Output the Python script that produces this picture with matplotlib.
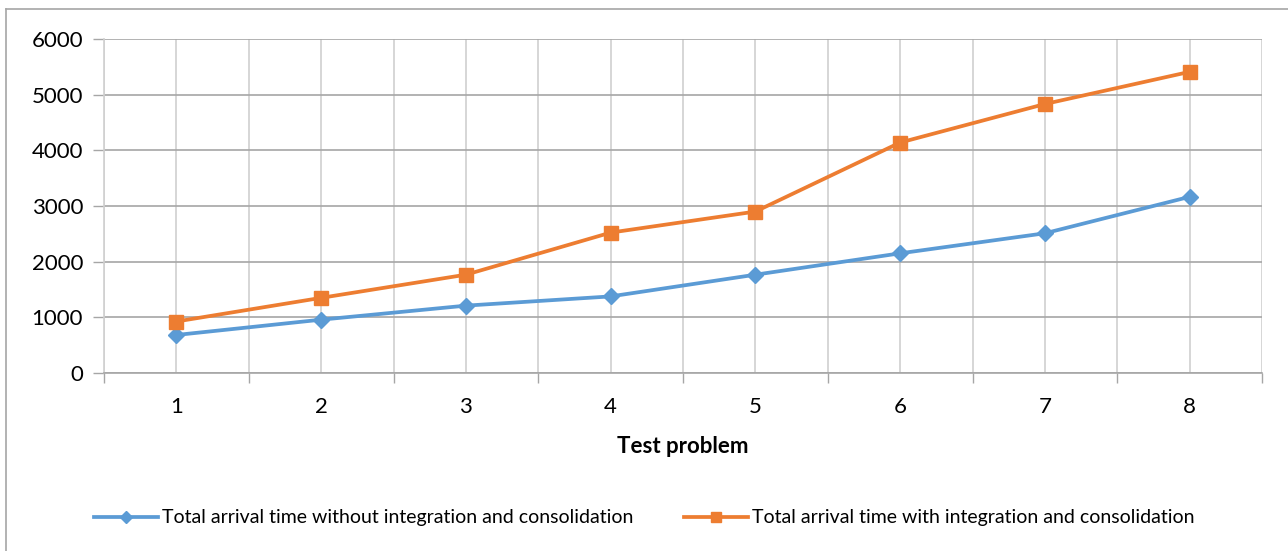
import numpy as np
import matplotlib
matplotlib.use('Agg')
import matplotlib.pyplot as plt
from matplotlib.lines import Line2D

plt.rcParams['font.family'] = ['Lato', 'DejaVu Sans']

# Data
problems = ['1', '2', '3', '4', '5', '6', '7', '8']
without_ic = [683, 958, 1210, 1376, 1766, 2150, 2510, 3165]
with_ic = [925, 1350, 1766, 2522, 2900, 4140, 4832, 5410]
label_without = 'Total arrival time without integration and consolidation'
label_with = 'Total arrival time with integration and consolidation'

blue = '#5b9bd5'
orange = '#ed7d31'

fig = plt.figure(figsize=(12.88, 5.51), dpi=100)
ax = fig.add_axes([104 / 1288, 1 - 373 / 551, (1262 - 104) / 1288, (373 - 39) / 551])

x = np.arange(len(problems))
ax.plot(x, without_ic, color=blue, lw=2.7, marker='D', ms=8.5, label=label_without, zorder=3)
ax.plot(x, with_ic, color=orange, lw=2.7, marker='s', ms=10.5, label=label_with, zorder=4)

ax.set_xlim(-0.5, len(problems) - 0.5)
ax.set_ylim(0, 6000)
ax.set_yticks(np.arange(0, 6001, 1000))

# category boundaries as major ticks, centers as minor (labels)
ax.set_xticks(np.arange(-0.5, len(problems), 1.0))
ax.set_xticklabels([])
ax.set_xticks(x, minor=True)
ax.set_xticklabels(problems, minor=True, fontsize=16)
ax.tick_params(axis='x', which='major', length=7, color='#a6a6a6', width=1)
ax.tick_params(axis='x', which='minor', length=0, pad=17)
ax.tick_params(axis='y', length=8, color='#a6a6a6', width=1, labelsize=16, pad=7)

ax.grid(axis='y', color='#a6a6a6', lw=1.2)
ax.grid(axis='x', which='both', color='#d0d0d0', lw=1.2)
ax.set_axisbelow(True)

for s in ['top', 'right']:
    ax.spines[s].set_visible(False)
ax.spines['left'].set_color('#d0d0d0')
ax.spines['bottom'].set_color('#a6a6a6')
ax.spines['left'].set_linewidth(1.2)
ax.spines['bottom'].set_linewidth(1.2)

ax.set_xlabel('Test problem', fontsize=16, fontweight='bold', labelpad=14)

handles = [
    Line2D([], [], color=blue, lw=2.7, marker='D', ms=6.5),
    Line2D([], [], color=orange, lw=2.7, marker='s', ms=7.5),
]
fig.legend(handles, [label_without, label_with], loc='center', bbox_to_anchor=(0.5, 1 - 518 / 551),
           ncol=2, frameon=False, fontsize=14, handlelength=3.3, handletextpad=0.2, columnspacing=2.6)

# outer chart border (only top and left visible in the crop)
fig.add_artist(Line2D([6 / 1288, 6 / 1288], [0, 1 - 9 / 551], transform=fig.transFigure, color='#a6a6a6', lw=1.2))
fig.add_artist(Line2D([6 / 1288, 1], [1 - 9 / 551, 1 - 9 / 551], transform=fig.transFigure, color='#a6a6a6', lw=1.2))

fig.savefig('out.png', dpi=100)
